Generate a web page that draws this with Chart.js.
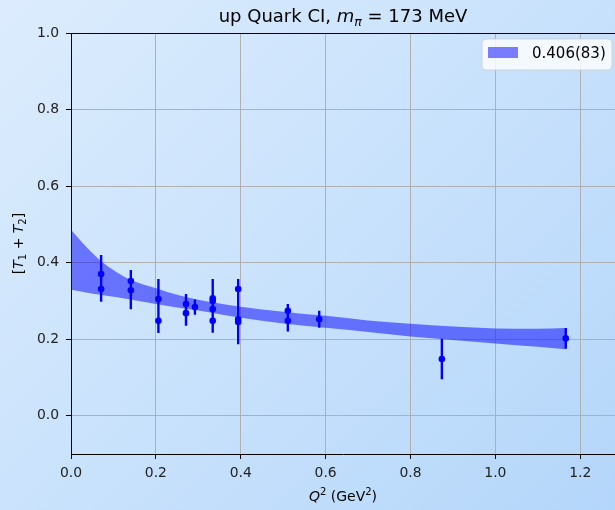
<!DOCTYPE html>
<html><head><meta charset="utf-8">
<script src="https://cdn.jsdelivr.net/npm/chart.js@4.4.0/dist/chart.umd.min.js"></script>
<style>
html,body{margin:0;padding:0;}
body{width:615px;height:510px;overflow:hidden;background:linear-gradient(135deg,#dcecfd 0%,#c9e2fc 50%,#b4d6fa 100%);}
canvas{display:block;}
</style></head>
<body>
<canvas id="c" width="615" height="510"></canvas>
<script>
// ---- data ----
const q2 = [0.071,0.071, 0.141,0.141, 0.206,0.206, 0.271,0.271, 0.292, 0.334,0.334,0.334,0.334, 0.394,0.394,0.394, 0.511,0.511, 0.585, 0.874, 1.166];
const vals = [0.370,0.331, 0.352,0.328, 0.305,0.248, 0.292,0.268, 0.284, 0.307,0.300,0.279,0.248, 0.331,0.252,0.245, 0.274,0.248, 0.252, 0.148, 0.202];
const errs = [0.050,0.033, 0.029,0.050, 0.052,0.032, 0.026,0.033, 0.020, 0.050,0.030,0.030,0.031, 0.026,0.065,0.050, 0.018,0.028, 0.022, 0.053, 0.027];
const bandQ2 = [0, 0.035, 0.07, 0.105, 0.14, 0.2, 0.25, 0.3, 0.4, 0.5, 0.6, 0.7, 0.8, 0.9, 1.0, 1.1, 1.166];
const bandUpper = [0.486, 0.442, 0.405, 0.377, 0.355, 0.333, 0.316, 0.303, 0.285, 0.272, 0.261, 0.249, 0.240, 0.233, 0.228, 0.227, 0.229];
const bandLower = [0.329, 0.322, 0.316, 0.310, 0.304, 0.292, 0.283, 0.275, 0.256, 0.241, 0.230, 0.219, 0.207, 0.198, 0.189, 0.180, 0.174];
const xTicks = [0.0, 0.2, 0.4, 0.6, 0.8, 1.0, 1.2];
const yTicks = [0.0, 0.2, 0.4, 0.6, 0.8, 1.0];
const legendLabel = '0.406(83)';

const pts = q2.map((x,i)=>({x:x, y:vals[i]}));
const errSegs = [];
q2.forEach((x,i)=>{ errSegs.push({x:x,y:vals[i]-errs[i]}); errSegs.push({x:x,y:vals[i]+errs[i]}); errSegs.push({x:x,y:null}); });
const up = bandQ2.map((x,i)=>({x:x,y:bandUpper[i]}));
const lo = bandQ2.map((x,i)=>({x:x,y:bandLower[i]}));

const FONT = "'DejaVu Sans', sans-serif";

function drawRuns(ctx, runs, x, y, align){
  let total = 0;
  runs.forEach(r=>{ ctx.font = (r.italic?'italic ':'') + r.size + 'px ' + FONT; r.w = ctx.measureText(r.t).width; total += r.w; });
  let cx = align==='center' ? x - total/2 : x;
  runs.forEach(r=>{ ctx.font = (r.italic?'italic ':'') + r.size + 'px ' + FONT; ctx.fillText(r.t, cx, y + (r.dy||0)); cx += r.w; });
}

const decor = {
  id:'decor',
  afterDraw(chart){
    const ctx = chart.ctx, a = chart.chartArea;
    ctx.save();
    ctx.strokeStyle = '#000'; ctx.lineWidth = 1;
    ctx.beginPath(); ctx.moveTo(a.left, a.top+0.5); ctx.lineTo(a.right, a.top+0.5); ctx.stroke();
    ctx.fillStyle = '#000'; ctx.textBaseline = 'alphabetic'; ctx.textAlign = 'left';
    // title
    drawRuns(ctx, [
      {t:'up Quark CI, ', size:18},
      {t:'m', size:18, italic:true},
      {t:'π', size:12.5, italic:true, dy:3.5},
      {t:' = 173 MeV', size:18}
    ], (a.left+a.right)/2, 22, 'center');
    // x label
    drawRuns(ctx, [
      {t:'Q', size:14, italic:true},
      {t:'2', size:10, dy:-6},
      {t:' (GeV', size:14},
      {t:'2', size:10, dy:-6},
      {t:')', size:14}
    ], (a.left+a.right)/2, 501, 'center');
    // y label
    ctx.translate(23, (a.top+a.bottom)/2);
    ctx.rotate(-Math.PI/2);
    drawRuns(ctx, [
      {t:'[', size:14},
      {t:'T', size:14, italic:true},
      {t:'1', size:10, dy:3},
      {t:' + ', size:14},
      {t:'T', size:14, italic:true},
      {t:'2', size:10, dy:3},
      {t:']', size:14}
    ], 0, 0, 'center');
    ctx.restore();
    // legend
    ctx.save();
    const lx=482, ly=39, lw=130, lh=31, r=4;
    ctx.fillStyle='rgba(255,255,255,0.8)'; ctx.strokeStyle='rgba(204,204,204,0.8)'; ctx.lineWidth=1;
    ctx.beginPath();
    ctx.moveTo(lx+r,ly); ctx.lineTo(lx+lw-r,ly); ctx.quadraticCurveTo(lx+lw,ly,lx+lw,ly+r);
    ctx.lineTo(lx+lw,ly+lh-r); ctx.quadraticCurveTo(lx+lw,ly+lh,lx+lw-r,ly+lh);
    ctx.lineTo(lx+r,ly+lh); ctx.quadraticCurveTo(lx,ly+lh,lx,ly+lh-r);
    ctx.lineTo(lx,ly+r); ctx.quadraticCurveTo(lx,ly,lx+r,ly); ctx.closePath();
    ctx.fill(); ctx.stroke();
    ctx.fillStyle='rgba(0,0,255,0.5)';
    ctx.fillRect(488,47,30,11);
    ctx.fillStyle='#000'; ctx.font='15px '+FONT; ctx.textBaseline='middle'; ctx.textAlign='left';
    ctx.fillText(legendLabel, 532, 54);
    ctx.restore();
  }
};

new Chart(document.getElementById('c'), {
  type:'scatter',
  data:{datasets:[
    {label:'points', data:pts, backgroundColor:'#0000ff', borderColor:'#0000ff', pointRadius:3.3, pointBorderWidth:0, showLine:false, order:0},
    {label:'err', data:errSegs, borderColor:'#0000ff', borderWidth:2.4, pointRadius:0, showLine:true, spanGaps:false, order:1},
    {label:'upper', data:up, borderWidth:0, borderColor:'rgba(0,0,0,0)', pointRadius:0, showLine:true, cubicInterpolationMode:'monotone', fill:3, backgroundColor:'rgba(0,0,255,0.5)', order:2},
    {label:'lower', data:lo, borderWidth:0, borderColor:'rgba(0,0,0,0)', pointRadius:0, showLine:true, cubicInterpolationMode:'monotone', fill:false, order:3}
  ]},
  options:{
    responsive:false, animation:false, devicePixelRatio:1,
    layout:{autoPadding:false, padding:{top:33,left:0,right:0,bottom:0}},
    plugins:{legend:{display:false}, tooltip:{enabled:false}, title:{display:false}, filler:{drawTime:'beforeDatasetsDraw'}},
    scales:{
      x:{type:'linear', min:0, max:1.282,
        afterBuildTicks(s){ s.ticks = xTicks.map(v=>({value:v})); },
        afterFit(s){ s.height = 56; },
        grid:{color:'#b0b0b0', lineWidth:1, tickColor:'#000', tickLength:5, drawTicks:true},
        border:{color:'#000', width:1},
        ticks:{color:'#222', font:{family:FONT,size:13.9}, padding:6, maxRotation:0, callback:v=>v.toFixed(1)}
      },
      y:{type:'linear', min:-0.1, max:1.0,
        afterBuildTicks(s){ s.ticks = yTicks.map(v=>({value:v})); },
        afterFit(s){ s.width = 71; },
        grid:{color:'#b0b0b0', lineWidth:1, tickColor:'#000', tickLength:5, drawTicks:true},
        border:{color:'#000', width:1},
        ticks:{color:'#222', font:{family:FONT,size:13.9}, padding:7, callback:v=>v.toFixed(1)}
      }
    }
  },
  plugins:[decor]
});
</script>
</body></html>
